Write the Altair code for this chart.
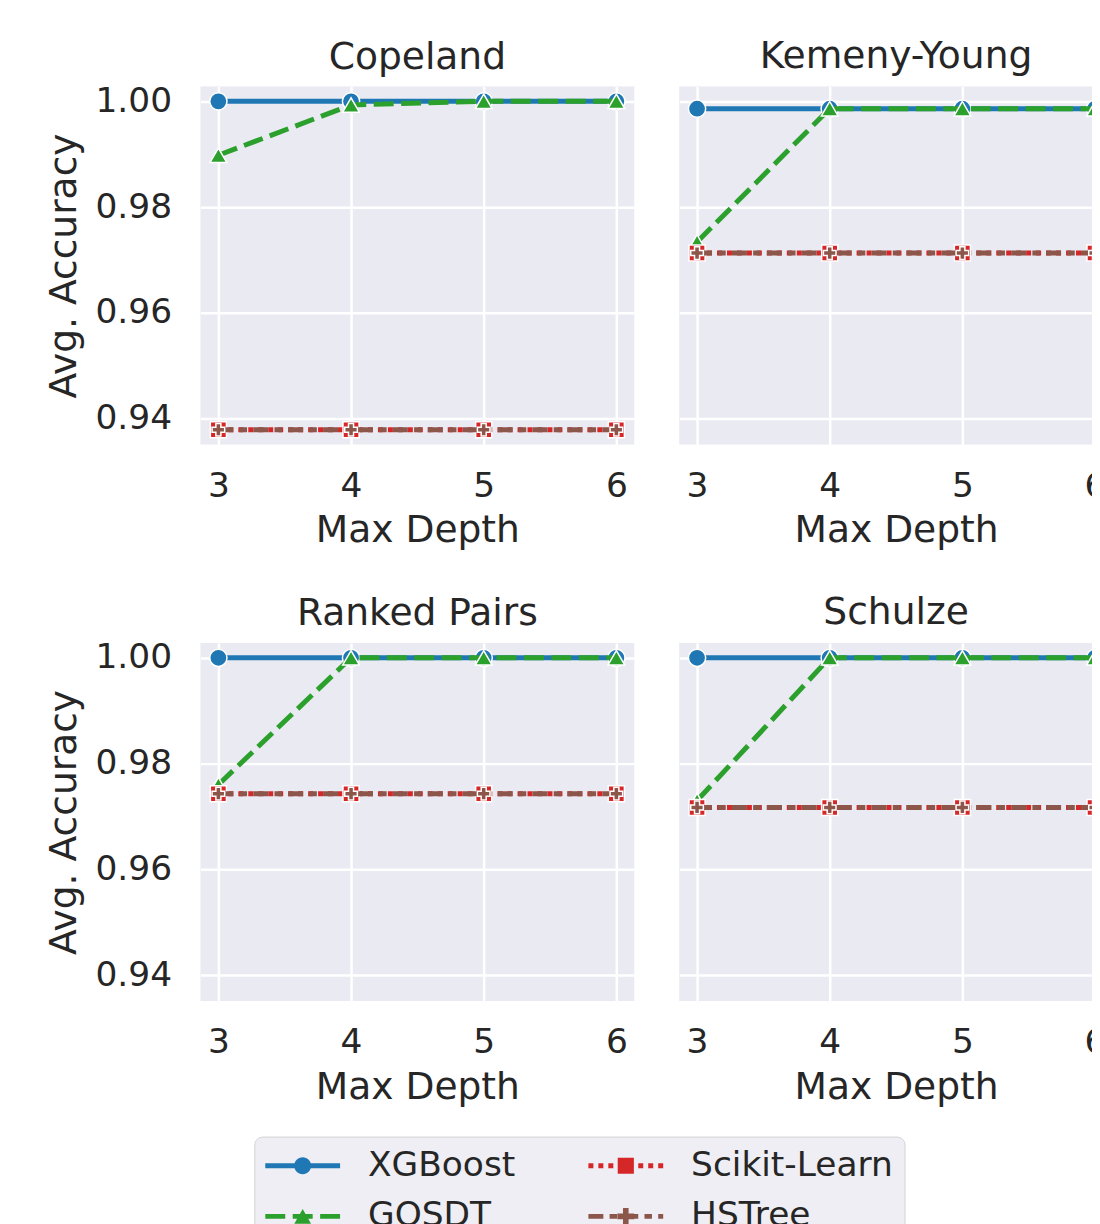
import altair as alt
import pandas as pd

# ---------------- data ----------------
depths = [3, 4, 5, 6]
methods = ["Copeland", "Kemeny-Young", "Ranked Pairs", "Schulze"]
models = ["XGBoost", "GOSDT", "Scikit-Learn", "HSTree"]

copeland_xgboost = [1.0, 1.0, 1.0, 1.0]
copeland_gosdt = [0.9898, 0.9993, 1.0, 1.0]
copeland_sklearn = [0.9379, 0.9379, 0.9379, 0.9379]
copeland_hstree = [0.9379, 0.9379, 0.9379, 0.9379]

kemeny_xgboost = [0.9986, 0.9986, 0.9986, 0.9986]
kemeny_gosdt = [0.9734, 0.9986, 0.9986, 0.9986]
kemeny_sklearn = [0.9713, 0.9713, 0.9713, 0.9713]
kemeny_hstree = [0.9713, 0.9713, 0.9713, 0.9713]

ranked_xgboost = [1.0, 1.0, 1.0, 1.0]
ranked_gosdt = [0.9760, 1.0, 1.0, 1.0]
ranked_sklearn = [0.9743, 0.9743, 0.9743, 0.9743]
ranked_hstree = [0.9743, 0.9743, 0.9743, 0.9743]

schulze_xgboost = [1.0, 1.0, 1.0, 1.0]
schulze_gosdt = [0.9730, 1.0, 1.0, 1.0]
schulze_sklearn = [0.9717, 0.9717, 0.9717, 0.9717]
schulze_hstree = [0.9717, 0.9717, 0.9717, 0.9717]

series = {
    "Copeland": [copeland_xgboost, copeland_gosdt, copeland_sklearn, copeland_hstree],
    "Kemeny-Young": [kemeny_xgboost, kemeny_gosdt, kemeny_sklearn, kemeny_hstree],
    "Ranked Pairs": [ranked_xgboost, ranked_gosdt, ranked_sklearn, ranked_hstree],
    "Schulze": [schulze_xgboost, schulze_gosdt, schulze_sklearn, schulze_hstree],
}

rows = []
for meth in methods:
    for model, vals in zip(models, series[meth]):
        for d, v in zip(depths, vals):
            rows.append({"Method": meth, "Model": model, "Depth": d, "Accuracy": v})
df = pd.DataFrame(rows)

# ---------------- styles ----------------
TEXT = "#262626"
FONT = "DejaVu Sans"
colors = {"XGBoost": "#1f77b4", "GOSDT": "#2ca02c", "Scikit-Learn": "#d62728", "HSTree": "#8c564b"}
LW = 5
dashes = {"XGBoost": [], "GOSDT": [20, 7.5], "Scikit-Learn": [5, 5], "HSTree": [15, 6.25, 7.5, 6.25]}
shapes = {"XGBoost": "circle", "GOSDT": "triangle-up", "Scikit-Learn": "square", "HSTree": "cross"}
msize = {"XGBoost": 300, "GOSDT": 280, "Scikit-Learn": 260, "HSTree": 160}

# legend handle paths (dashed line drawn as filled segments + marker), unit = U px
U = 18.0
HALF = 37.5
HW = LW / 2


def f(v):
    return f"{v / U:.4f}"


def rect(x0, x1, h):
    return f"M{f(x0)},{f(-h)}H{f(x1)}V{f(h)}H{f(x0)}Z"


def handle_line(pattern):
    if not pattern:
        return rect(-HALF, HALF, HW)
    out = []
    x = -HALF
    i = 0
    while x < HALF:
        seg = pattern[i % len(pattern)]
        if i % 2 == 0:
            out.append(rect(x, min(x + seg, HALF), HW))
        x += seg
        i += 1
    return "".join(out)


def marker_path(shape):
    if shape == "circle":
        r = 8.5
        k = 0.5523 * r
        return (f"M{f(r)},0C{f(r)},{f(k)},{f(k)},{f(r)},0,{f(r)}"
                f"C{f(-k)},{f(r)},{f(-r)},{f(k)},{f(-r)},0"
                f"C{f(-r)},{f(-k)},{f(-k)},{f(-r)},0,{f(-r)}"
                f"C{f(k)},{f(-r)},{f(r)},{f(-k)},{f(r)},0Z")
    if shape == "triangle-up":
        r, h = 8.4, 7.3
        return f"M0,{f(-h)}L{f(r)},{f(h)}L{f(-r)},{f(h)}Z"
    if shape == "square":
        return rect(-8.1, 8.1, 8.1)
    a, e = 2.8, 8.4
    pts = [(-a, -e), (a, -e), (a, -a), (e, -a), (e, a), (a, a), (a, e), (-a, e), (-a, a), (-e, a), (-e, -a), (-a, -a)]
    return "M" + "L".join(f"{f(x)},{f(y)}" for x, y in pts) + "Z"


paths = {m: handle_line(dashes[m]) + marker_path(shapes[m]) for m in models}

legend = alt.Legend(
    title=None,
    orient="none",
    legendX=54,
    legendY=1053,
    columns=2,
    direction="vertical",
    labelFontSize=34.5,
    labelColor=TEXT,
    labelFont=FONT,
    labelLimit=500,
    symbolSize=1296,
    symbolOffset=19.5,
    symbolStrokeWidth=0,
    symbolOpacity=1,
    labelOffset=47.5,
    rowPadding=16,
    columnPadding=73,
    padding=11,
    fillColor="#eeeef4",
    strokeColor="#d3d3d3",
    cornerRadius=8,
)

color_scale = alt.Scale(domain=models, range=[colors[m] for m in models])
shape_scale = alt.Scale(domain=models, range=[paths[m] for m in models])

W, H = 435, 359
x_scale = alt.Scale(domain=[2.865, 6.135], nice=False, zero=False)
y_scale = alt.Scale(domain=[0.9351, 1.0028], nice=False, zero=False)


def panel(name, show_y):
    sub = df[df["Method"] == name]
    x = alt.X("Depth:Q", scale=x_scale, axis=alt.Axis(values=depths, format="d", title="Max Depth"))
    y = alt.Y(
        "Accuracy:Q",
        scale=y_scale,
        axis=alt.Axis(values=[0.94, 0.96, 0.98, 1.0], format=".2f",
                      title="Avg. Accuracy" if show_y else None, labels=show_y),
    )
    layers = []
    for m in models:
        base = alt.Chart(sub[sub["Model"] == m]).encode(x=x, y=y)
        if dashes[m]:
            line = base.mark_line(color=colors[m], strokeWidth=LW, strokeDash=dashes[m])
        else:
            line = base.mark_line(color=colors[m], strokeWidth=LW)
        pts = base.mark_point(filled=True, color=colors[m], shape=shapes[m], size=msize[m],
                              stroke="white", strokeWidth=1.5, opacity=1)
        layers += [line, pts]
    # legend-only layer (no rows survive the filter); carries the combined legend
    key = alt.Chart(sub).transform_filter("false").mark_point(
        filled=True, opacity=1, strokeWidth=0).encode(
        x=x, y=y,
        color=alt.Color("Model:N", scale=color_scale, legend=legend),
        shape=alt.Shape("Model:N", scale=shape_scale, legend=legend),
    )
    layers.append(key)
    return alt.layer(*layers).properties(
        width=W, height=H,
        title=alt.Title(name, fontSize=37.7, fontWeight="normal", color=TEXT, font=FONT,
                        frame="group", anchor="middle", offset=7 if show_y else 11),
    )


row1 = alt.hconcat(panel("Copeland", True), panel("Kemeny-Young", False), spacing=45)
row2 = alt.hconcat(panel("Ranked Pairs", True), panel("Schulze", False), spacing=45)

chart = (
    alt.vconcat(row1, row2, spacing=44)
    .properties(padding={"left": 38, "top": 28, "right": -21, "bottom": 0})
    .configure(font=FONT, background="white")
    .configure_view(fill="#eaeaf2", stroke=None)
    .configure_axis(
        gridColor="white", gridWidth=2.5, domain=False, ticks=False, tickSize=0,
        labelFontSize=34.5, labelColor=TEXT, labelFont=FONT,
        titleFontSize=37.7, titleColor=TEXT, titleFont=FONT, titleFontWeight="normal",
    )
    .configure_axisX(labelPadding=25, titlePadding=9)
    .configure_axisY(labelPadding=29, titlePadding=11)
)

chart.save("out.html", embed_options={"renderer": "svg", "actions": False})
